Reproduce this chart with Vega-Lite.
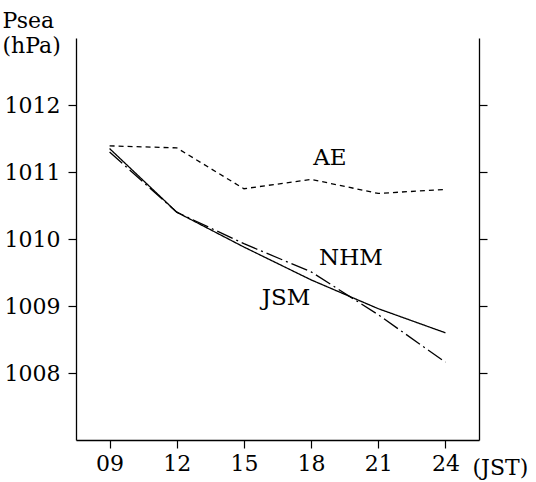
{
  "$schema": "https://vega.github.io/schema/vega-lite/v6.json",
  "width": 403,
  "height": 402,
  "autosize": {"type": "none"},
  "padding": {"left": 76, "top": 38, "right": 57, "bottom": 42},
  "background": "white",
  "config": {
    "view": {"stroke": null},
    "font": "DejaVu Serif",
    "axis": {"domainColor": "black", "tickColor": "black", "labelColor": "black", "titleColor": "black", "labelFont": "DejaVu Serif", "titleFont": "DejaVu Serif", "labelFontSize": 22, "titleFontSize": 22, "titleFontWeight": "normal", "grid": false, "tickSize": 8, "domainWidth": 1.3, "tickWidth": 1.2}
  },
  "datasets": {
    "series": [
      {"model": "AE", "hour": 9, "p": 1011.39},
      {"model": "AE", "hour": 12, "p": 1011.36},
      {"model": "AE", "hour": 15, "p": 1010.75},
      {"model": "AE", "hour": 18, "p": 1010.89},
      {"model": "AE", "hour": 21, "p": 1010.68},
      {"model": "AE", "hour": 24, "p": 1010.74},
      {"model": "JSM", "hour": 9, "p": 1011.35},
      {"model": "JSM", "hour": 12, "p": 1010.4},
      {"model": "JSM", "hour": 15, "p": 1009.88},
      {"model": "JSM", "hour": 18, "p": 1009.39},
      {"model": "JSM", "hour": 21, "p": 1008.96},
      {"model": "JSM", "hour": 24, "p": 1008.6},
      {"model": "NHM", "hour": 9, "p": 1011.3},
      {"model": "NHM", "hour": 12, "p": 1010.4},
      {"model": "NHM", "hour": 15, "p": 1009.93},
      {"model": "NHM", "hour": 18, "p": 1009.51},
      {"model": "NHM", "hour": 21, "p": 1008.87},
      {"model": "NHM", "hour": 24, "p": 1008.16}
    ],
    "labels": [
      {"label": "AE", "hour": 18.84, "p": 1011.21},
      {"label": "NHM", "hour": 19.78, "p": 1009.72},
      {"label": "JSM", "hour": 16.88, "p": 1009.12}
    ]
  },
  "layer": [
    {
      "data": {"name": "series"},
      "mark": {"type": "line", "color": "black", "strokeWidth": 1.3},
      "encoding": {
        "x": {
          "field": "hour", "type": "quantitative",
          "scale": {"domain": [7.5, 25.5], "nice": false, "zero": false},
          "axis": {"values": [9, 12, 15, 18, 21, 24], "labelExpr": "datum.value < 10 ? '0' + datum.value : '' + datum.value", "title": "(JST)", "titleAngle": 0, "titleAlign": "left", "titleBaseline": "middle", "titleX": 396, "titleY": 27, "labelPadding": 5}
        },
        "y": {
          "field": "p", "type": "quantitative",
          "scale": {"domain": [1007, 1013], "nice": false, "zero": false},
          "axis": {"orient": "left", "values": [1008, 1009, 1010, 1011, 1012], "format": "d", "title": ["Psea", "(hPa)"], "titleAngle": 0, "titleAlign": "left", "titleBaseline": "alphabetic", "titleX": -74, "titleY": -11, "titleLineHeight": 25, "labelPadding": 8}
        },
        "strokeDash": {
          "field": "model", "type": "nominal",
          "scale": {"domain": ["AE", "JSM", "NHM"], "range": [[5, 4], [1, 0], [17, 4, 2, 4]]},
          "legend": null
        }
      }
    },
    {
      "data": {"name": "labels"},
      "mark": {"type": "text", "color": "black", "font": "DejaVu Serif", "fontSize": 23, "align": "center", "baseline": "middle"},
      "encoding": {
        "x": {"field": "hour", "type": "quantitative"},
        "y": {
          "field": "p", "type": "quantitative",
          "axis": {"orient": "right", "values": [1008, 1009, 1010, 1011, 1012], "labels": false, "title": null}
        },
        "text": {"field": "label"}
      }
    }
  ],
  "resolve": {"axis": {"y": "independent"}}
}
